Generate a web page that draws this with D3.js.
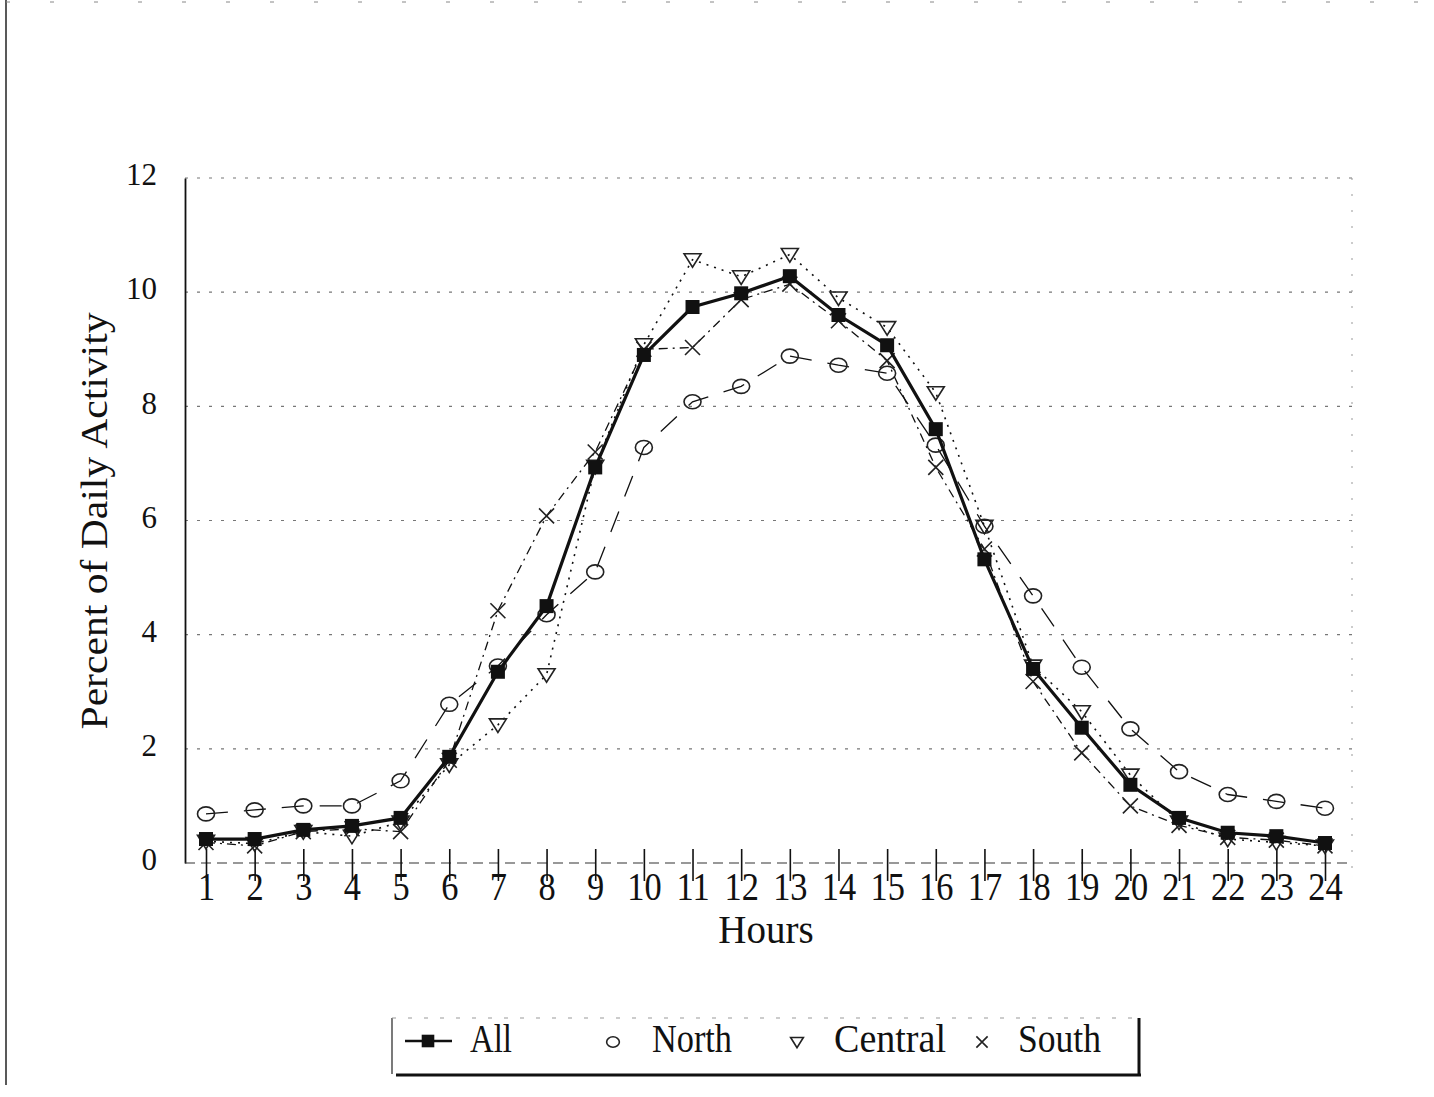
<!DOCTYPE html>
<html>
<head>
<meta charset="utf-8">
<script src="https://cdn.jsdelivr.net/npm/d3@7"></script>
<style>
  html, body { margin: 0; padding: 0; background: #fff; }
  svg { display: block; font-family: "Liberation Serif", "Times New Roman", serif; }
</style>
</head>
<body>
<svg id="chart" width="1434" height="1097"></svg>
<script>
const hours = d3.range(1, 25);
const allValues = [0.42, 0.42, 0.58, 0.65, 0.79, 1.86, 3.35, 4.5, 6.93, 8.9, 9.74, 9.98, 10.28, 9.6, 9.07, 7.6, 5.32, 3.4, 2.37, 1.37, 0.79, 0.53, 0.47, 0.35];
const northValues = [0.86, 0.93, 1.0, 1.0, 1.44, 2.78, 3.45, 4.35, 5.1, 7.28, 8.08, 8.35, 8.88, 8.72, 8.58, 7.32, 5.9, 4.68, 3.43, 2.35, 1.6, 1.2, 1.08, 0.96];
const centralValues = [0.38, 0.34, 0.55, 0.47, 0.72, 1.72, 2.42, 3.3, 6.95, 9.08, 10.57, 10.27, 10.66, 9.9, 9.38, 8.24, 5.9, 3.45, 2.65, 1.54, 0.72, 0.42, 0.36, 0.3];
const southValues = [0.36, 0.3, 0.55, 0.6, 0.55, 1.8, 4.42, 6.08, 7.2, 9.0, 9.03, 9.87, 10.14, 9.5, 8.8, 6.93, 5.5, 3.18, 1.93, 1.0, 0.66, 0.45, 0.4, 0.3];
const yTicks = [0, 2, 4, 6, 8, 10, 12];

const series = [
  { name: 'All', values: allValues, dash: null, width: 3.2, marker: 'square' },
  { name: 'North', values: northValues, dash: '22,16', width: 1.3, marker: 'circle' },
  { name: 'Central', values: centralValues, dash: '2,6', width: 1.6, marker: 'triangle' },
  { name: 'South', values: southValues, dash: '9,5,2,5', width: 1.3, marker: 'cross' }
];

const svg = d3.select('#chart');
const plot = { left: 185, right: 1352, top: 178, bottom: 863 };

const x = d3.scalePoint().domain(hours).range([206, 1325]);
const y = d3.scaleLinear().domain([0, 12]).range([plot.bottom, plot.top]);

// page border left
svg.append('line').attr('x1', 6).attr('x2', 6).attr('y1', 0).attr('y2', 1085)
  .attr('stroke', '#222').attr('stroke-width', 1.5);
svg.append('line').attr('x1', 6).attr('x2', 1430).attr('y1', 2).attr('y2', 2)
  .attr('stroke', '#888').attr('stroke-width', 1).attr('stroke-dasharray', '4,40');

// grid lines
svg.append('g')
  .selectAll('line')
  .data(yTicks.filter((d) => d > 0))
  .join('line')
  .attr('x1', plot.left).attr('x2', plot.right)
  .attr('y1', (d) => y(d)).attr('y2', (d) => y(d))
  .attr('stroke', '#777').attr('stroke-width', 1.2)
  .attr('stroke-dasharray', '3,9');

// right frame
svg.append('line').attr('x1', plot.right).attr('x2', plot.right)
  .attr('y1', plot.top).attr('y2', plot.bottom + 8)
  .attr('stroke', '#999').attr('stroke-width', 1).attr('stroke-dasharray', '2,14');

// y axis
const yAxis = svg.append('g')
  .attr('transform', `translate(${plot.left},0)`)
  .call(d3.axisLeft(y).tickValues(yTicks).tickSize(0).tickPadding(28));
yAxis.select('.domain').attr('stroke', '#111').attr('stroke-width', 1.8);
yAxis.selectAll('text')
  .attr('font-family', '"Liberation Serif", serif')
  .attr('font-size', 31).attr('fill', '#111').attr('dy', '0.22em');

// x axis
const xAxis = svg.append('g')
  .attr('transform', `translate(0,${plot.bottom})`)
  .call(d3.axisBottom(x).tickSize(16).tickPadding(4));
xAxis.select('.domain').attr('d', `M${plot.left},0H${plot.right}`)
  .attr('stroke', '#333').attr('stroke-width', 1.2).attr('stroke-dasharray', '10,6');
xAxis.selectAll('.tick line')
  .attr('y1', -14).attr('y2', 18)
  .attr('stroke', '#111').attr('stroke-width', 1.6);
xAxis.selectAll('text')
  .attr('font-family', '"Liberation Serif", serif')
  .attr('font-size', 40).attr('fill', '#111')
  .attr('y', 37).attr('dy', null)
  .attr('transform', 'scale(0.86,1)');

svg.append('text')
  .attr('x', 766).attr('y', 943)
  .attr('text-anchor', 'middle')
  .attr('font-size', 39).attr('fill', '#111')
  .text('Hours');

svg.append('text')
  .attr('transform', 'translate(107,521) rotate(-90)')
  .attr('text-anchor', 'middle')
  .attr('font-size', 37).attr('fill', '#111')
  .attr('textLength', 417).attr('lengthAdjust', 'spacingAndGlyphs')
  .text('Percent of Daily Activity');

// markers
function drawMarker(g, type, cx, cy, scale = 1) {
  if (type === 'square') {
    const s = 14 * scale;
    g.append('rect').attr('x', cx - s / 2).attr('y', cy - s / 2)
      .attr('width', s).attr('height', s).attr('fill', '#111');
  } else if (type === 'circle') {
    g.append('ellipse').attr('cx', cx).attr('cy', cy)
      .attr('rx', 8.5 * scale).attr('ry', 7 * scale)
      .attr('fill', 'none').attr('stroke', '#222').attr('stroke-width', 1.6);
  } else if (type === 'triangle') {
    const s = 8.5 * scale;
    g.append('path')
      .attr('d', `M${cx - s},${cy - s * 0.7}L${cx + s},${cy - s * 0.7}L${cx},${cy + s * 0.9}Z`)
      .attr('fill', 'none').attr('stroke', '#222').attr('stroke-width', 1.6);
  } else if (type === 'cross') {
    const s = 7.5 * scale;
    g.append('path')
      .attr('d', `M${cx - s},${cy - s}L${cx + s},${cy + s}M${cx + s},${cy - s}L${cx - s},${cy + s}`)
      .attr('fill', 'none').attr('stroke', '#222').attr('stroke-width', 1.6);
  }
}

const line = d3.line().x((d, i) => x(hours[i])).y((d) => y(d));

// draw non-All series first, All on top
const order = [series[1], series[2], series[3], series[0]];
order.forEach((s) => {
  const g = svg.append('g').attr('class', `series-${s.name}`);
  g.append('path')
    .datum(s.values)
    .attr('d', line)
    .attr('fill', 'none')
    .attr('stroke', '#111')
    .attr('stroke-width', s.width)
    .attr('stroke-dasharray', s.dash);
  s.values.forEach((v, i) => drawMarker(g, s.marker, x(hours[i]), y(v)));
});

// legend
const legend = svg.append('g').attr('class', 'legend');
legend.append('line').attr('x1', 392).attr('x2', 392).attr('y1', 1018).attr('y2', 1074)
  .attr('stroke', '#222').attr('stroke-width', 1.2);
legend.append('line').attr('x1', 392).attr('x2', 1140).attr('y1', 1018).attr('y2', 1018)
  .attr('stroke', '#999').attr('stroke-width', 1).attr('stroke-dasharray', '4,12');
legend.append('line').attr('x1', 396).attr('x2', 1141).attr('y1', 1075).attr('y2', 1075)
  .attr('stroke', '#111').attr('stroke-width', 3);
legend.append('line').attr('x1', 1139).attr('x2', 1139).attr('y1', 1018).attr('y2', 1076)
  .attr('stroke', '#111').attr('stroke-width', 3);

const legendItems = [
  { s: series[0], mx: 428, tx: 470, w: 42 },
  { s: series[1], mx: 613, tx: 652, w: 80 },
  { s: series[2], mx: 797, tx: 834, w: 112 },
  { s: series[3], mx: 982, tx: 1018, w: 83 }
];
legendItems.forEach((d) => {
  if (d.s.marker === 'square') {
    legend.append('line').attr('x1', 405).attr('x2', 452).attr('y1', 1041).attr('y2', 1041)
      .attr('stroke', '#111').attr('stroke-width', 2.5);
    drawMarker(legend, 'square', d.mx, 1041, 0.9);
  } else {
    drawMarker(legend, d.s.marker, d.mx, 1042, 0.75);
  }
  legend.append('text')
    .attr('x', d.tx).attr('y', 1052)
    .attr('font-size', 40).attr('fill', '#111')
    .attr('textLength', d.w).attr('lengthAdjust', 'spacingAndGlyphs')
    .text(d.s.name);
});
</script>
</body>
</html>
